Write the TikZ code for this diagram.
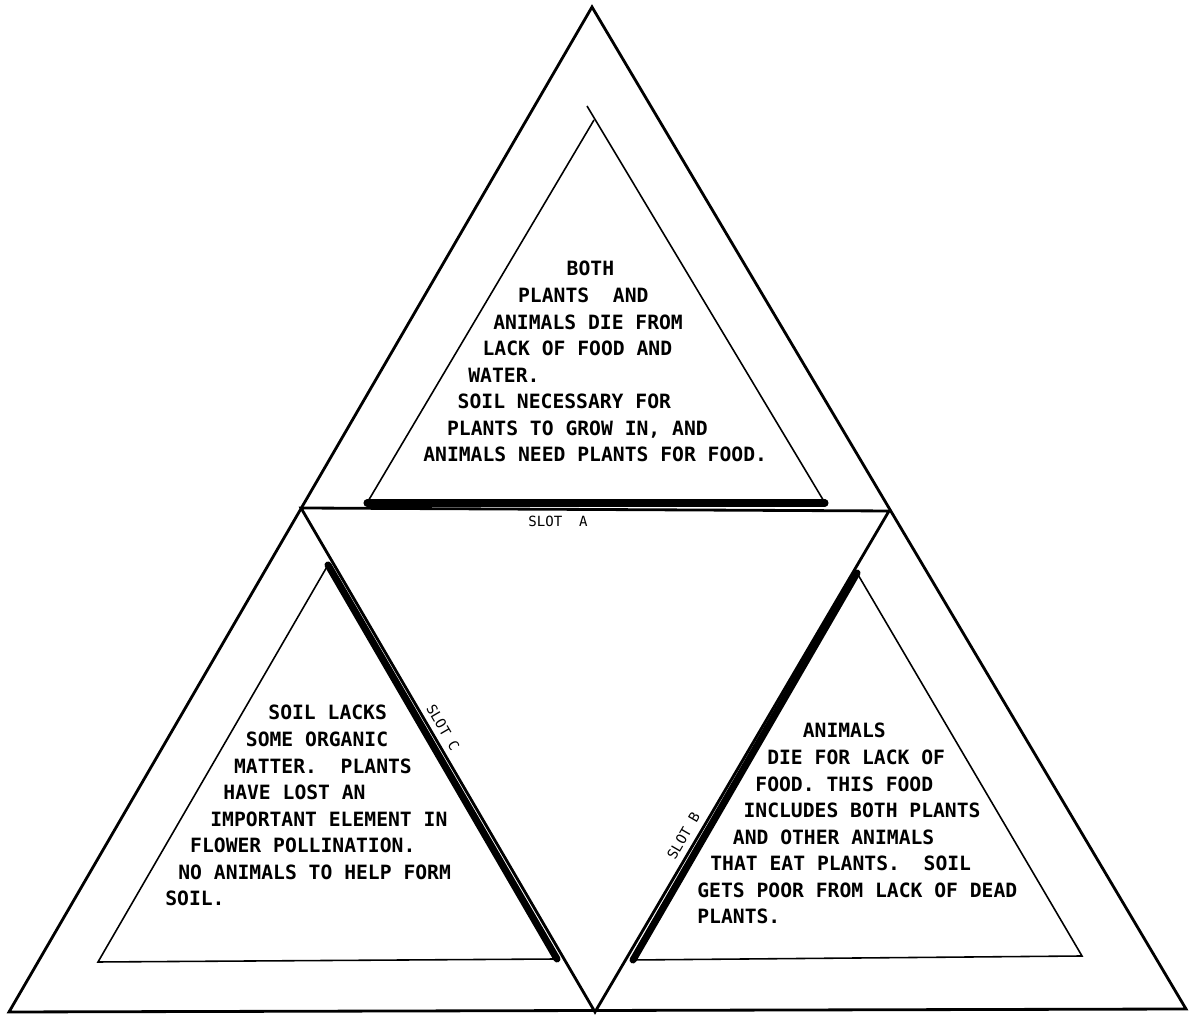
\documentclass[tikz,border=0pt]{standalone}
\usepackage{fontspec}
\newfontfamily\lettering{DejaVu Sans Mono}
\usepackage{tikz}

\newcommand\ind[1]{\hspace*{#1\fontcharwd\font`M}}

\begin{document}
\frenchspacing
\begin{tikzpicture}[line join=miter,
    edge/.style={line width=1.6pt},
    fold/.style={line width=0.9pt},
    slotline/.style={line width=4pt, line cap=round},
    panel/.style={anchor=north west, align=left, inner sep=0pt,
      font=\lettering\bfseries\fontsize{11.2}{15.1}\selectfont},
    slotlabel/.style={inner sep=0pt, font=\lettering\fontsize{8}{9}\selectfont}]
  \useasboundingbox (0,0) rectangle (23.84,20.30);
  % outer and middle triangle
  \coordinate (top) at (11.84, 20.16);
  \coordinate (bl)  at (0.18, 0.06);
  \coordinate (br)  at (23.72, 0.12);
  \coordinate (lm)  at (6.02, 10.14);
  \coordinate (rm)  at (17.78, 10.08);
  \coordinate (bm)  at (11.90, 0.06);
  \draw[edge] (top) -- (bl) -- (br) -- cycle;
  \draw[edge] (lm) -- (rm) -- (bm) -- cycle;
  % top panel
  \coordinate (ta)  at (11.88, 17.90);
  \coordinate (tax) at (11.74, 18.18);
  \coordinate (tl)  at (7.34, 10.24);
  \coordinate (tr)  at (16.50, 10.24);
  \draw[fold] (tl) -- (ta);
  \draw[fold] (tax) -- (tr);
  \draw[slotline] (tl) -- (tr);
  % left panel
  \coordinate (la) at (6.56, 9.00);
  \coordinate (ll) at (1.96, 1.06);
  \coordinate (lr) at (11.14, 1.12);
  \draw[fold] (la) -- (ll) -- (lr);
  \draw[slotline] (la) -- (lr);
  % right panel
  \coordinate (ra) at (17.14, 8.84);
  \coordinate (rl) at (12.66, 1.10);
  \coordinate (rr) at (21.64, 1.18);
  \draw[fold] (ra) -- (rr) -- (rl);
  \draw[slotline] (ra) -- (rl);
  % slot labels
  \node[slotlabel] (slotA) at (11.16, 9.88) {SLOT\ \ A};
  \node[slotlabel, rotate=-59.8] (slotC) at (8.86, 5.75) {SLOT C};
  \node[slotlabel, rotate=59.9] (slotB) at (13.67, 3.58) {SLOT B};
  % panel texts
  \node[panel] (ttext) at (8.46, 15.08)
    {\ind{12.1}BOTH\\
     \ind{8.0}PLANTS\ \ AND\\
     \ind{5.9}ANIMALS DIE FROM\\
     \ind{5.0}LACK OF FOOD AND\\
     \ind{3.8}WATER.\\
     \ind{2.9}SOIL NECESSARY FOR\\
     \ind{2.0}PLANTS TO GROW IN, AND\\
     ANIMALS NEED PLANTS FOR FOOD.};
  \node[panel] (ltext) at (3.30, 6.20)
    {\ind{8.7}SOIL LACKS\\
     \ind{6.8}SOME ORGANIC\\
     \ind{5.8}MATTER.\ \ PLANTS\\
     \ind{4.9}HAVE LOST AN\\
     \ind{3.8}IMPORTANT ELEMENT IN\\
     \ind{2.1}FLOWER POLLINATION.\\
     \ind{1.1}NO ANIMALS TO HELP FORM\\
     SOIL.};
  \node[panel] (rtext) at (13.94, 5.84)
    {\ind{8.9}ANIMALS\\
     \ind{5.9}DIE FOR LACK OF\\
     \ind{4.9}FOOD. THIS FOOD\\
     \ind{3.9}INCLUDES BOTH PLANTS\\
     \ind{3.0}AND OTHER ANIMALS\\
     \ind{1.1}THAT EAT PLANTS.\ \ SOIL\\
     GETS POOR FROM LACK OF DEAD\\
     PLANTS.};
\end{tikzpicture}
\end{document}
